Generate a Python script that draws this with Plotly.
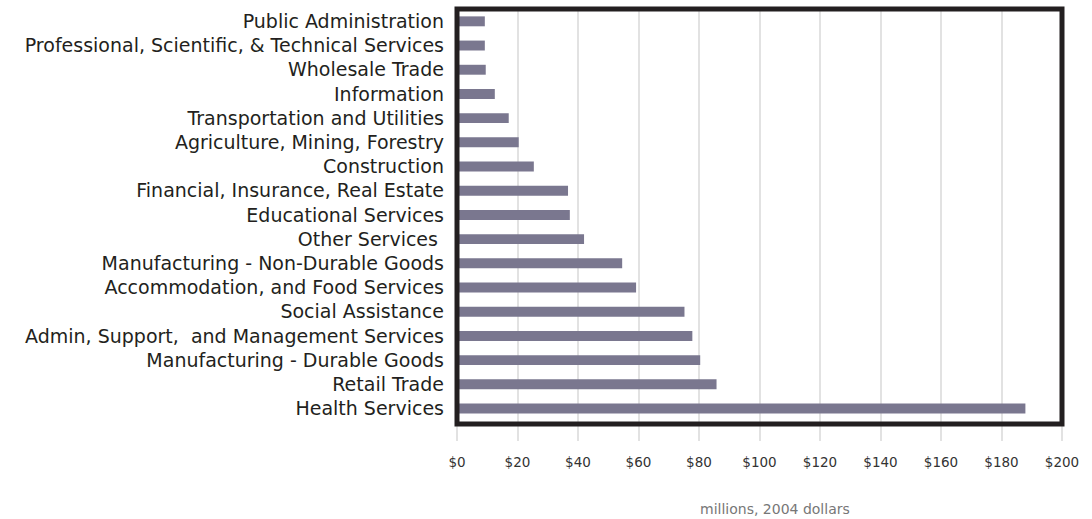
import plotly.graph_objects as go

categories = [
    "Public Administration",
    "Professional, Scientific, & Technical Services",
    "Wholesale Trade",
    "Information",
    "Transportation and Utilities",
    "Agriculture, Mining, Forestry",
    "Construction",
    "Financial, Insurance, Real Estate",
    "Educational Services",
    "Other Services ",
    "Manufacturing - Non-Durable Goods",
    "Accommodation, and Food Services",
    "Social Assistance",
    "Admin, Support,  and Management Services",
    "Manufacturing - Durable Goods",
    "Retail Trade",
    "Health Services",
]
values = [9.2, 9.2, 9.5, 12.5, 17.1, 20.4, 25.4, 36.7, 37.3, 42.0,
          54.6, 59.2, 75.2, 77.8, 80.4, 85.8, 187.9]

tick_vals = [0, 20, 40, 60, 80, 100, 120, 140, 160, 180, 200]
tick_text = ["$" + str(v) for v in tick_vals]

FONT = "DejaVu Sans"

fig = go.Figure(go.Bar(
    y=categories, x=values, orientation="h",
    marker=dict(color="#7a778f", line=dict(width=0)),
    width=0.41,
))

fig.update_layout(
    width=1092, height=519,
    margin=dict(l=457, r=30, t=9, b=95),
    paper_bgcolor="white", plot_bgcolor="white",
    showlegend=False,
    font=dict(family=FONT, color="#231f20"),
    xaxis=dict(
        range=[0, 200], tickmode="array", tickvals=tick_vals, ticktext=tick_text,
        showgrid=True, gridcolor="#e2e2e2", gridwidth=1.5,
        ticks="outside", ticklen=16, tickcolor="#e2e2e2", tickwidth=1.5,
        ticklabelstandoff=10,
        tickfont=dict(family=FONT, size=13.5, color="#333333"),
        zeroline=False, showline=False,
    ),
    yaxis=dict(
        categoryorder="array", categoryarray=categories,
        tickmode="array", tickvals=categories, ticktext=categories,
        range=[16.64, -0.51],
        tickfont=dict(family=FONT, size=19, color="#231f20"),
        ticks="", ticklabelstandoff=12,
        showgrid=False, zeroline=False, showline=False,
    ),
    shapes=[dict(type="rect", xref="paper", yref="paper",
                 x0=0, x1=1, y0=0, y1=1,
                 line=dict(color="#231f20", width=5), layer="above")],
    annotations=[dict(text="millions, 2004 dollars", xref="paper", yref="paper",
                      x=0.5256, y=-0.2037, xanchor="center", yanchor="middle",
                      showarrow=False, font=dict(family=FONT, size=14, color="#777777"))],
)

fig.write_html("out.html")
